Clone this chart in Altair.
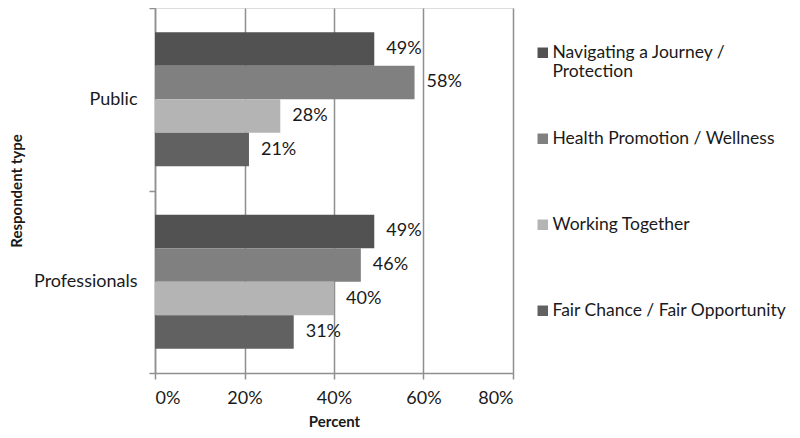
import altair as alt
import pandas as pd

groups = ["Public", "Professionals"]
series = [
    "Navigating a Journey / Protection",
    "Health Promotion / Wellness",
    "Working Together",
    "Fair Chance / Fair Opportunity",
]
public_vals = [49, 58, 28, 21]
prof_vals = [49, 46, 40, 31]
colors = ["#525252", "#808080", "#b4b4b4", "#616161"]
x_ticks = [0, 0.2, 0.4, 0.6, 0.8]

rows = []
for g, vals in zip(groups, [public_vals, prof_vals]):
    for s, v in zip(series, vals):
        rows.append({"group": g, "series": s, "value": v / 100, "label": f"{v}%"})
df = pd.DataFrame(rows)

FONT = "Lato"
GRID = "#8f8f8f"
TXT = "#1a1a1a"

base = alt.Chart(df).encode(
    y=alt.Y(
        "group:N",
        sort=groups,
        scale=alt.Scale(paddingInner=0, paddingOuter=0),
        axis=alt.Axis(
            title="Respondent type",
            tickBand="extent",
            domainColor=GRID,
            domainWidth=1.5,
            tickColor=GRID,
            tickWidth=1.5,
            tickSize=6,
            labelPadding=12,
            labelFontSize=18,
            labelFont=FONT,
            labelColor=TXT,
            titleFont=FONT,
            titleFontSize=15,
            titleFontWeight="bold",
            titleColor=TXT,
            titlePadding=9,
            grid=False,
        ),
    ),
    yOffset=alt.YOffset(
        "series:N", sort=series, scale=alt.Scale(paddingInner=0, paddingOuter=0.72)
    ),
)

x_enc = alt.X(
    "value:Q",
    scale=alt.Scale(domain=[0, 0.8], nice=False),
    axis=alt.Axis(
        title="Percent",
        format="%",
        values=x_ticks,
        grid=True,
        gridColor=GRID,
        gridWidth=1.5,
        domainColor=GRID,
        domainWidth=1.5,
        tickColor=GRID,
        tickWidth=1.5,
        tickSize=6,
        labelPadding=10,
        labelFontSize=18,
        labelFont=FONT,
        labelColor=TXT,
        titleFont=FONT,
        titleFontSize=15,
        titleFontWeight="bold",
        titleColor=TXT,
        titlePadding=7,
    ),
)

bars = base.mark_bar().encode(
    x=x_enc,
    color=alt.Color(
        "series:N",
        sort=series,
        scale=alt.Scale(domain=series, range=colors),
        legend=alt.Legend(
            title=None,
            orient="none",
            legendX=379,
            legendY=36,
            symbolType="square",
            symbolSize=110,
            symbolStrokeWidth=0,
            symbolOpacity=1,
            labelFont=FONT,
            labelFontSize=17.5,
            labelColor=TXT,
            labelLimit=400,
            labelOffset=1,
            rowPadding=48,
            gridAlign="all",
            labelExpr="datum.label == 'Navigating a Journey / Protection' ? ['Navigating a Journey /', 'Protection'] : datum.label",
        ),
    ),
)

text = base.mark_text(align="left", dx=12, fontSize=18, font=FONT, color=TXT).encode(
    x=alt.X("value:Q"),
    text="label:N",
)

chart = (
    alt.layer(bars, text)
    .properties(
        width=358,
        height=365,
        autosize=alt.AutoSizeParams(type="none"),
        padding={"left": 147, "top": 0, "right": 279, "bottom": 57},
    )
    .configure_view(stroke=None)
    .configure(background="white")
)

chart.save("out.html", embed_options={"renderer": "svg", "actions": False})
